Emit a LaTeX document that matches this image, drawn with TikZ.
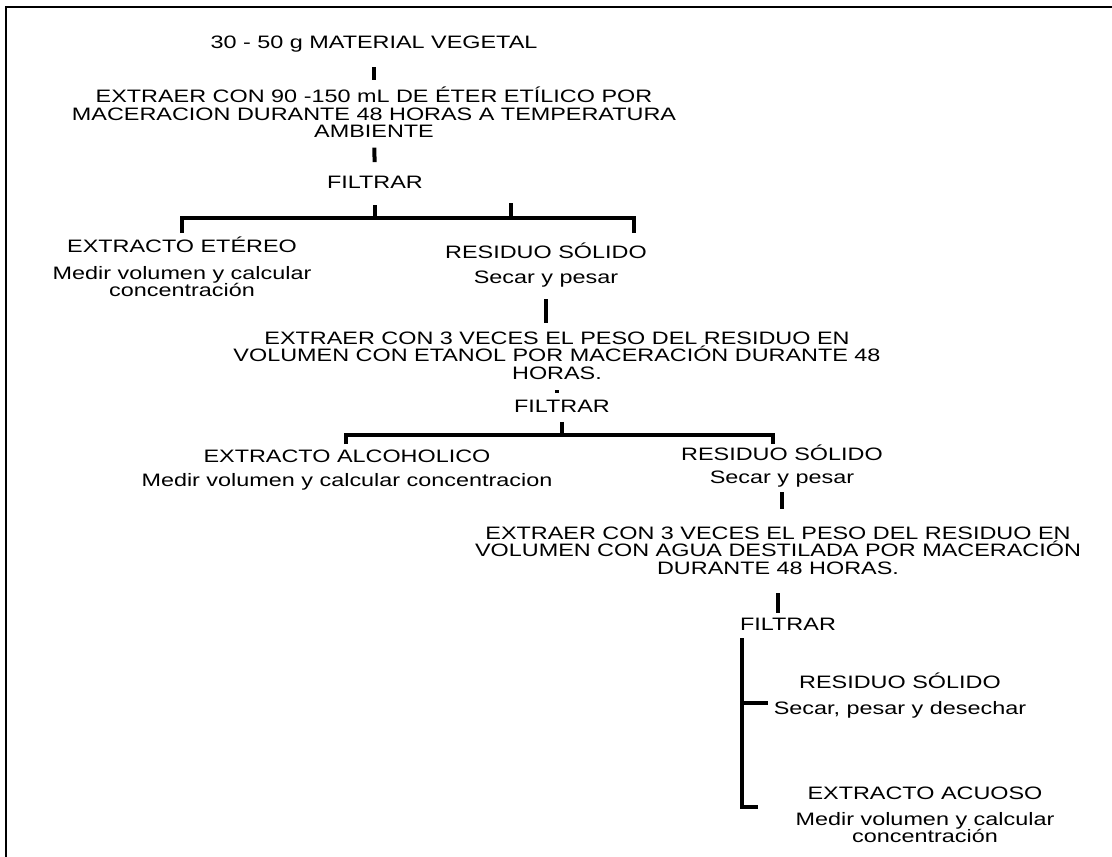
\documentclass[tikz,border=0pt]{standalone}
\usepackage{fontspec}
\newfontfamily\ancho[FakeStretch=1.30]{Liberation Sans}
\usepackage{tikz}
\usetikzlibrary{positioning}

\begin{document}
\begin{tikzpicture}[
    x=1pt, y=1pt,
    txt/.style={inner sep=0pt, outer sep=0pt, align=center, font=\ancho\fontsize{18}{17.5}\selectfont},
    bar/.style={line width=4pt},
    line/.style={line width=3.2pt}
]
    \useasboundingbox (0,-857) rectangle (1112,0);
    \draw[line width=1.6pt] (1112,-7) -- (6,-7) -- (6,-857);

    % Nodos
    \node[txt] (mat) at (374,-43.85) {30 - 50 g MATERIAL VEGETAL};
    \node[txt] (ext1) at (374,-112.6) {EXTRAER CON 90 -150 mL DE ÉTER ETÍLICO POR\\MACERACION DURANTE 48 HORAS A TEMPERATURA\\AMBIENTE};
    \node[txt] (filt1) at (375,-182) {FILTRAR};
    \node[txt] (eter) at (182,-245.25) {EXTRACTO ETÉREO};
    \node[txt, below=13pt of eter] (eterdesc) {Medir volumen y calcular\\concentración};
    \node[txt] (res1) at (546,-251.25) {RESIDUO SÓLIDO};
    \node[txt, below=12pt of res1] (res1desc) {Secar y pesar};
    \node[txt] (ext2) at (557,-355.5) {EXTRAER CON 3 VECES EL PESO DEL RESIDUO EN\\VOLUMEN CON ETANOL POR MACERACIÓN DURANTE 48\\HORAS.};
    \node[txt] (filt2) at (562,-406) {FILTRAR};
    \node[txt] (alc) at (347,-456) {EXTRACTO ALCOHOLICO};
    \node[txt, below=11pt of alc] (alcdesc) {Medir volumen y calcular concentracion};
    \node[txt] (res2) at (782,-453.25) {RESIDUO SÓLIDO};
    \node[txt, below=10pt of res2] (res2desc) {Secar y pesar};
    \node[txt] (ext3) at (778,-550.5) {EXTRAER CON 3 VECES EL PESO DEL RESIDUO EN\\VOLUMEN CON AGUA DESTILADA POR MACERACIÓN\\DURANTE 48 HORAS.};
    \node[txt] (filt3) at (788,-624) {FILTRAR};
    \node[txt] (res3) at (900,-681.25) {RESIDUO SÓLIDO};
    \node[txt, below=12pt of res3] (res3desc) {Secar, pesar y desechar};
    \node[txt] (acu) at (925,-793) {EXTRACTO ACUOSO};
    \node[txt, below=13pt of acu] (acudesc) {Medir volumen y calcular\\concentración};

    % Puntos de las llaves
    \coordinate (f1) at (375,-218);
    \coordinate (f1b) at (511,-218);
    \coordinate (e1) at (182,-233);
    \coordinate (r1) at (634,-233);
    \coordinate (f2) at (562,-435);
    \coordinate (e2) at (346,-444);
    \coordinate (r2) at (773,-444);
    \coordinate (t3) at (742,-638);
    \coordinate (m3) at (768,-703);
    \coordinate (b3) at (758,-807);

    % Barras
    \draw[bar, shorten <=15pt, shorten >=7pt] (mat.south) -- (ext1.north);
    \draw[bar, shorten <=9.75pt, shorten >=13.75pt] (ext1.south) -- (filt1.north);
    \draw[bar, shorten <=12pt, shorten >=8.75pt] (res1desc.south) -- (res1desc.south |- ext2.north);
    \draw[bar, shorten <=10.75pt, shorten >=6.75pt] (ext2.south) -- (ext2.south |- filt2.north);
    \draw[bar, shorten <=5pt, shorten >=17.75pt] (res2desc.south) -- (res2desc.south |- ext3.north);
    \draw[bar, shorten <=18.75pt, shorten >=4.75pt] (ext3.south) -- (ext3.south |- filt3.north);

    % Llaves
    \draw[bar, shorten <=17pt] (filt1.south) -- (f1);
    \draw[bar] (f1b) -- ++(0,15);
    \draw[line] (e1) -- ++(0,15) -| (r1);
    \draw[bar, shorten <=9.75pt] (filt2.south) -- (f2);
    \draw[line] (e2) -- ++(0,9) -| (r2);
    \draw[line] (t3) |- (b3);
    \draw[line] (t3 |- m3) -- (m3);
\end{tikzpicture}
\end{document}
